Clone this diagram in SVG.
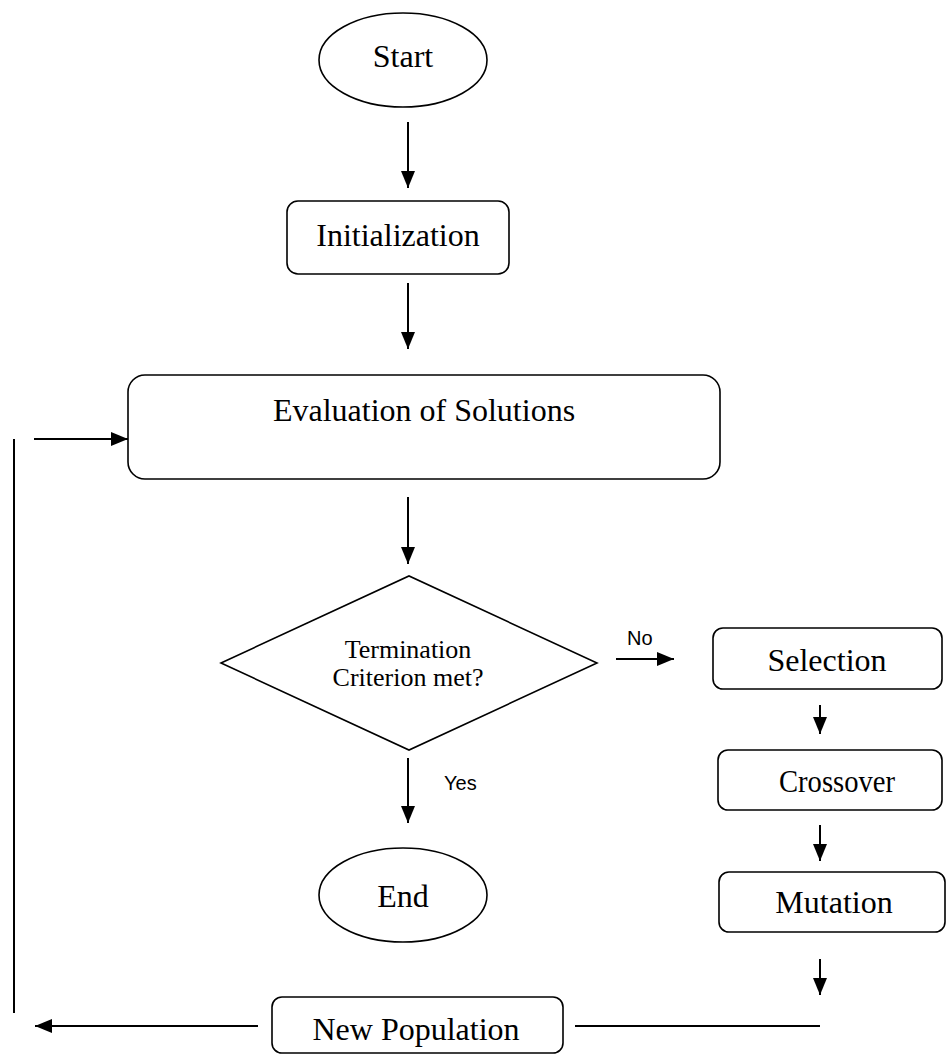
<svg xmlns="http://www.w3.org/2000/svg" width="947" height="1055" viewBox="0 0 947 1055">
<style>
.shape{fill:#fff;stroke:#000;stroke-width:1.6}
.lbl{font-family:"Liberation Serif","Times New Roman",serif;font-size:32px;fill:#000;text-anchor:middle}
.small{font-family:"Liberation Serif","Times New Roman",serif;font-size:26px;fill:#000;text-anchor:middle}
.yn{font-family:"Liberation Sans",Arial,sans-serif;font-size:20px;fill:#000}
.con{fill:none;stroke:#000;stroke-width:2}
.arr{marker-end:url(#ah)}
</style>
<defs>
<marker id="ah" viewBox="0 0 17 14" refX="17" refY="7" markerWidth="17" markerHeight="14" markerUnits="userSpaceOnUse" orient="auto">
<path d="M0,0 L17,7 L0,14 z" fill="#000"/>
</marker>
</defs>
<rect width="947" height="1055" fill="#fff"/>
<g id="start">
<ellipse class="shape" cx="403" cy="60" rx="84" ry="47"/>
<text class="lbl" x="403" y="67">Start</text>
</g>
<g id="init">
<rect class="shape" x="287" y="201" width="222" height="73" rx="11"/>
<text class="lbl" x="398" y="246">Initialization</text>
</g>
<g id="eval">
<rect class="shape" x="128" y="375" width="592" height="104" rx="17"/>
<text class="lbl" x="424" y="421">Evaluation of Solutions</text>
</g>
<g id="decision">
<polygon class="shape" points="221,663 409,576 597,663 409,750"/>
<text class="small" x="408" y="658">Termination</text>
<text class="small" x="408" y="686">Criterion met?</text>
</g>
<g id="end">
<ellipse class="shape" cx="403" cy="895" rx="84" ry="47"/>
<text class="lbl" x="403" y="907">End</text>
</g>
<g id="selection">
<rect class="shape" x="713" y="628" width="229" height="61" rx="10"/>
<text class="lbl" x="827" y="671">Selection</text>
</g>
<g id="crossover">
<rect class="shape" x="718" y="750" width="224" height="60" rx="10"/>
<text class="lbl" x="837" y="792" textLength="116" lengthAdjust="spacingAndGlyphs">Crossover</text>
</g>
<g id="mutation">
<rect class="shape" x="719" y="872" width="226" height="60" rx="10"/>
<text class="lbl" x="834" y="913">Mutation</text>
</g>
<g id="newpop">
<rect class="shape" x="272" y="997" width="291" height="56" rx="10"/>
<text class="lbl" x="416" y="1040">New Population</text>
</g>
<g id="connectors">
<line class="con arr" x1="408" y1="122" x2="408" y2="188"/>
<line class="con arr" x1="408" y1="283" x2="408" y2="349"/>
<line class="con arr" x1="408" y1="497" x2="408" y2="564"/>
<line class="con arr" x1="408" y1="758" x2="408" y2="823"/>
<line class="con arr" x1="616" y1="659" x2="674" y2="659"/>
<line class="con arr" x1="820" y1="705" x2="820" y2="734"/>
<line class="con arr" x1="820" y1="825" x2="820" y2="861"/>
<line class="con arr" x1="820" y1="959" x2="820" y2="995"/>
<line class="con" x1="575" y1="1026" x2="820" y2="1026"/>
<line class="con arr" x1="258" y1="1026" x2="35" y2="1026"/>
<line class="con" x1="14" y1="439" x2="14" y2="1013"/>
<line class="con arr" x1="34" y1="439" x2="128" y2="439"/>
<text class="yn" x="627" y="645">No</text>
<text class="yn" x="444" y="790">Yes</text>
</g>
</svg>
